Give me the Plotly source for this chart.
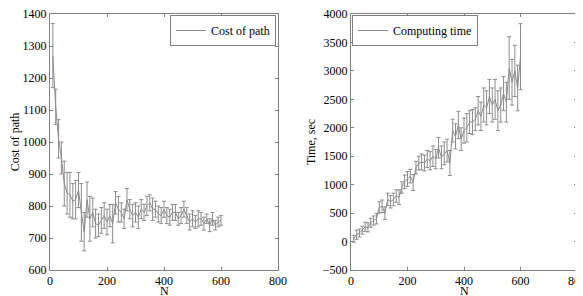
import plotly.graph_objects as go

N = [10, 20, 30, 40, 50, 60, 70, 80, 90, 100, 110, 120, 130, 140, 150, 160, 170, 180, 190, 200,
     210, 220, 230, 240, 250, 260, 270, 280, 290, 300, 310, 320, 330, 340, 350, 360, 370, 380, 390, 400,
     410, 420, 430, 440, 450, 460, 470, 480, 490, 500, 510, 520, 530, 540, 550, 560, 570, 580, 590, 600]

cost = [1270, 1110, 1010, 950, 870, 840, 835, 815, 820, 850, 780, 720, 820, 760, 780, 745, 740, 755, 770, 750,
        770, 745, 810, 790, 780, 760, 820, 790, 770, 780, 765, 790, 780, 800, 810, 790, 790, 775, 770, 790,
        770, 765, 780, 780, 760, 770, 790, 770, 750, 760, 750, 760, 760, 745, 760, 740, 760, 740, 750, 755]
cost_err = [100, 55, 60, 50, 70, 65, 70, 55, 60, 55, 90, 60, 55, 70, 45, 45, 35, 40, 40, 40,
            35, 60, 35, 40, 30, 30, 35, 30, 35, 30, 35, 30, 25, 30, 25, 35, 25, 25, 25, 25,
            25, 25, 25, 25, 20, 25, 25, 25, 25, 25, 20, 25, 20, 20, 15, 20, 20, 15, 15, 15]

time = [50, 120, 150, 200, 260, 250, 330, 370, 400, 600, 620, 500, 740, 700, 740, 800, 780, 950, 1050, 1100,
        1150, 1040, 1300, 1380, 1400, 1380, 1450, 1420, 1500, 1450, 1650, 1480, 1550, 1600, 1380, 1950, 1850, 2050, 1800, 1950,
        2000, 2100, 2100, 2150, 2300, 2200, 2400, 2350, 2550, 2400, 2500, 2300, 2400, 2600, 2450, 3050, 2800, 3000, 2700, 3250]
time_err = [60, 80, 70, 70, 80, 80, 80, 80, 90, 100, 110, 110, 110, 110, 110, 110, 130, 100, 120, 130,
            120, 140, 110, 120, 140, 140, 150, 160, 180, 170, 180, 200, 200, 200, 220, 200, 220, 240, 200, 220,
            250, 200, 220, 200, 250, 250, 300, 300, 300, 300, 350, 350, 300, 300, 350, 550, 400, 450, 400, 580]

x_ticks = [0, 200, 400, 600, 800]
cost_ticks = [600, 700, 800, 900, 1000, 1100, 1200, 1300, 1400]
time_ticks = [-500, 0, 500, 1000, 1500, 2000, 2500, 3000, 3500, 4000]
time_ticktext = ["\u2212500", "0", "500", "1000", "1500", "2000", "2500", "3000", "3500", "4000"]

gray = "#8c8c8c"
font = dict(family="Liberation Serif, Times New Roman, serif", size=12, color="#000")

fig = go.Figure()
fig.add_trace(go.Scatter(
    x=N, y=cost, mode="lines", name="Cost of path", showlegend=True,
    line=dict(color=gray, width=1),
    error_y=dict(type="data", array=cost_err, color=gray, thickness=1, width=2),
    xaxis="x", yaxis="y", legend="legend"))
fig.add_trace(go.Scatter(
    x=N, y=time, mode="lines", name="Computing time", showlegend=True,
    line=dict(color=gray, width=1),
    error_y=dict(type="data", array=time_err, color=gray, thickness=1, width=2),
    xaxis="x2", yaxis="y2", legend="legend2"))

# page body has an 8px margin: figure is drawn from (8, 8)
OFF = 8
W, H = 583 - OFF, 296 - OFF
mt, mb = 14 - OFF, 26
ml, mr = 50 - OFF, W - (577 - OFF)
pw = W - ml - mr
ph = H - mt - mb

def px(x):
    return (x - OFF - ml) / pw

def py(y):
    return 1 - (y - OFF - mt) / ph

axis_common = dict(showline=True, linecolor="#808080", linewidth=1, mirror="ticks",
                   ticks="inside", ticklen=3, tickcolor="#808080", showgrid=False,
                   zeroline=False, tickfont=font, automargin=False,
                   ticklabeloverflow="allow")

fig.update_layout(
    width=W, height=H,
    margin=dict(l=ml, r=mr, t=mt, b=mb),
    plot_bgcolor="white", paper_bgcolor="white",
    font=font, showlegend=True,
    xaxis=dict(domain=[0, px(278)], range=[0, 800], tickvals=x_ticks, **axis_common),
    yaxis=dict(domain=[0, 1], range=[600, 1400], tickvals=cost_ticks,
               title=dict(text="Cost of path", font=font, standoff=4), **axis_common),
    xaxis2=dict(domain=[px(351), 1], range=[0, 800], tickvals=x_ticks, anchor="y2", **axis_common),
    yaxis2=dict(domain=[0, 1], range=[-500, 4000], anchor="x2",
                tickvals=time_ticks, ticktext=time_ticktext,
                title=dict(text="Time, sec", font=font, standoff=4), **axis_common),
    legend=dict(x=px(276), y=py(15), xanchor="right", yanchor="top",
                bordercolor="#808080", borderwidth=1, bgcolor="white", font=font,
                itemwidth=30, tracegroupgap=0),
    legend2=dict(x=px(352), y=py(15), xanchor="left", yanchor="top",
                 bordercolor="#808080", borderwidth=1, bgcolor="white", font=font,
                 itemwidth=30, tracegroupgap=0),
    annotations=[
        dict(text="N", x=(px(50) + px(278)) / 2, y=py(291), xref="paper", yref="paper",
             showarrow=False, font=font, xanchor="center", yanchor="middle"),
        dict(text="N", x=(px(351) + px(577)) / 2, y=py(291), xref="paper", yref="paper",
             showarrow=False, font=font, xanchor="center", yanchor="middle"),
    ],
)

fig.write_html("out.html")
